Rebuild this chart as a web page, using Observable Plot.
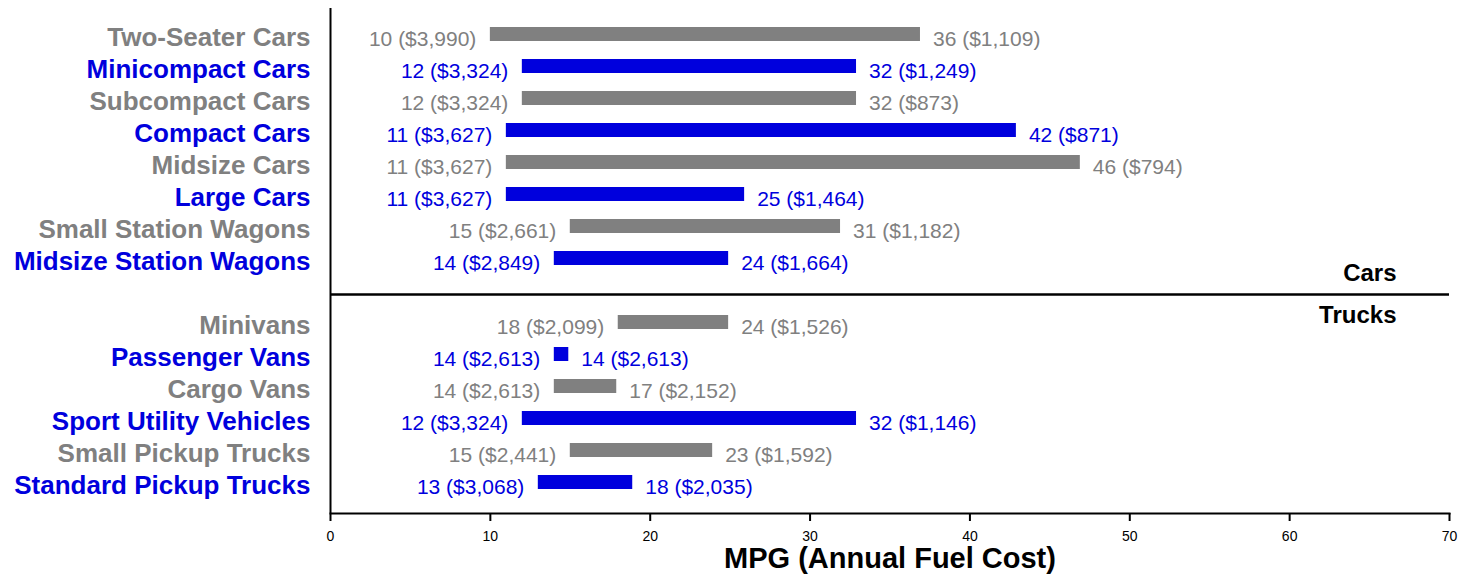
<!DOCTYPE html>
<html><head><meta charset="utf-8">
<script src="https://cdn.jsdelivr.net/npm/d3@7"></script>
<script src="https://cdn.jsdelivr.net/npm/@observablehq/plot@0.6"></script>
<style>body{margin:0;background:#fff}</style>
</head><body><div id="chart"></div>
<script>
const categories = [
  "Two-Seater Cars", "Minicompact Cars", "Subcompact Cars", "Compact Cars",
  "Midsize Cars", "Large Cars", "Small Station Wagons", "Midsize Station Wagons",
  "Minivans", "Passenger Vans", "Cargo Vans", "Sport Utility Vehicles",
  "Small Pickup Trucks", "Standard Pickup Trucks"
];
const groups = ["Cars","Cars","Cars","Cars","Cars","Cars","Cars","Cars",
  "Trucks","Trucks","Trucks","Trucks","Trucks","Trucks"];
const lowMpg  = [10, 12, 12, 11, 11, 11, 15, 14, 18, 14, 14, 12, 15, 13];
const highMpg = [36, 32, 32, 42, 46, 25, 31, 24, 24, 14, 17, 32, 23, 18];
const lowMpgCost  = [3990, 3324, 3324, 3627, 3627, 3627, 2661, 2849, 2099, 2613, 2613, 3324, 2441, 3068];
const highMpgCost = [1109, 1249, 873, 871, 794, 1464, 1182, 1664, 1526, 2613, 2152, 1146, 1592, 2035];
const groupLabels = ["Cars", "Trucks"];
const xTicks = [0, 10, 20, 30, 40, 50, 60, 70];
const xTitle = "MPG (Annual Fuel Cost)";

const GRAY = "#808080", BLUE = "#0000dd";
const fmt = d3.format("$,");
const data = categories.map((c, i) => ({
  category: c, group: groups[i],
  low: lowMpg[i], high: highMpg[i],
  lowLabel: `${lowMpg[i]} (${fmt(lowMpgCost[i])})`,
  highLabel: `${highMpg[i]} (${fmt(highMpgCost[i])})`,
  color: i % 2 ? BLUE : GRAY
}));
const GAP = " ";
const nCars = groups.filter(g => g === "Cars").length;
const yDomain = [...categories.slice(0, nCars), GAP, ...categories.slice(nCars)];

const font = "'Liberation Sans', Arial, Helvetica, sans-serif";
const plot = Plot.plot({
  width: 1473, height: 585,
  marginLeft: 330, marginRight: 24, marginTop: 8, marginBottom: 72,
  style: {fontFamily: font, background: "#fff", overflow: "visible"},
  x: {domain: [0, 70], label: null},
  y: {domain: yDomain, range: [18, 498], padding: 0, axis: null},
  color: {type: "identity"},
  marks: [
    Plot.barX(data, {y: "category", x1: "low", x2: d => d.high + 1, fill: "color",
      insetTop: 9, insetBottom: 9, insetRight: 1.5}),
    Plot.text(data, {y: "category", x: "low", text: "lowLabel", fill: "color",
      textAnchor: "end", dx: -14, dy: 5, fontSize: 21}),
    Plot.text(data, {y: "category", x: d => d.high + 1, text: "highLabel", fill: "color",
      textAnchor: "start", dx: 11, dy: 5, fontSize: 21}),
    Plot.text(data, {y: "category", frameAnchor: "left", text: "category", fill: "color",
      textAnchor: "end", dx: -20, dy: 3, fontSize: 26, fontWeight: "bold"}),
    Plot.ruleY([GAP], {y: d => d, stroke: "black", strokeWidth: 2.5, dy: 4}),
    Plot.text([groupLabels[0]], {y: () => GAP, frameAnchor: "right", text: d => d,
      textAnchor: "end", dx: -53, dy: -17, fontSize: 24, fontWeight: "bold", fill: "black"}),
    Plot.text([groupLabels[1]], {y: () => GAP, frameAnchor: "right", text: d => d,
      textAnchor: "end", dx: -53, dy: 25, fontSize: 24, fontWeight: "bold", fill: "black"}),
    Plot.ruleX([0], {stroke: "black", strokeWidth: 2}),
    Plot.frame({anchor: "bottom", stroke: "black", strokeWidth: 2}),
    Plot.axisX({ticks: xTicks, tickSize: 8, tickPadding: 10, fontSize: 14,
      strokeWidth: 2, label: null, fill: "black"}),
    Plot.text([xTitle], {frameAnchor: "bottom", text: d => d, dy: 54,
      fontSize: 29, fontWeight: "bold", fill: "black"})
  ]
});
document.getElementById("chart").appendChild(plot);
</script>
</body></html>
